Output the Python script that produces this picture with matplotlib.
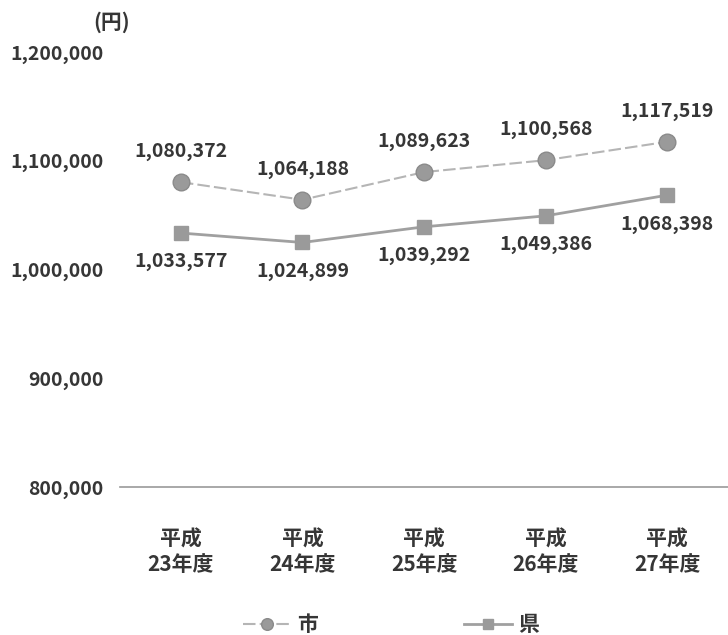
import matplotlib.pyplot as plt
import numpy as np

plt.rcParams['font.family'] = ['Noto Sans CJK JP', 'DejaVu Sans']

categories = ['平成\n23年度', '平成\n24年度', '平成\n25年度', '平成\n26年度', '平成\n27年度']
city = [1080372, 1064188, 1089623, 1100568, 1117519]
pref = [1033577, 1024899, 1039292, 1049386, 1068398]
yticks = [800000, 900000, 1000000, 1100000, 1200000]

txt = '#363636'

fig = plt.figure(figsize=(7.28, 6.35), dpi=100)
ax = fig.add_axes([0.165, 0.233, 0.835, 0.685])

x = np.arange(len(categories))
ax.plot(x, city, color='#b5b5b5', lw=1.5, ls=(0, (6, 2)), marker='o', ms=12,
        mfc='#9a9a9a', mec='#8a8a8a', label='市', zorder=3)
ax.plot(x, pref, color='#a0a0a0', lw=2, marker='s', ms=10,
        mfc='#9a9a9a', mec='#9a9a9a', label='県', zorder=3)

for xi, v in zip(x, city):
    ax.annotate(f'{v:,}', (xi, v), xytext=(0, 15), textcoords='offset points',
                ha='center', va='bottom', fontsize=14, fontweight='bold', color=txt)
for xi, v in zip(x, pref):
    ax.annotate(f'{v:,}', (xi, v), xytext=(0, -14), textcoords='offset points',
                ha='center', va='top', fontsize=14, fontweight='bold', color=txt)

ax.set_xlim(-0.5, 4.5)
ax.set_ylim(800000, 1200000)
ax.set_yticks(yticks)
ax.set_yticklabels([f'{t:,}' for t in yticks], fontsize=14, fontweight='bold', color=txt)
ax.set_xticks(x)
ax.set_xticklabels(categories, fontsize=15, fontweight='bold', color=txt, linespacing=1.25)
ax.tick_params(axis='y', length=0, pad=12)
ax.tick_params(axis='x', length=0, pad=30)

for s in ['top', 'right', 'left']:
    ax.spines[s].set_visible(False)
ax.spines['bottom'].set_color('#999999')
ax.spines['bottom'].set_linewidth(1.2)

fig.text(0.128, 0.955, '(円)', fontsize=15, fontweight='bold', color=txt, ha='left')

leg = fig.legend(loc='lower center', bbox_to_anchor=(0.537, -0.03), ncol=2, frameon=False,
                 fontsize=15, columnspacing=7, handlelength=2.3, handletextpad=0.3,
                 markerscale=0.7)
for t in leg.get_texts():
    t.set_color(txt)
    t.set_fontweight('bold')

fig.savefig('out.png', dpi=100, facecolor='white')
